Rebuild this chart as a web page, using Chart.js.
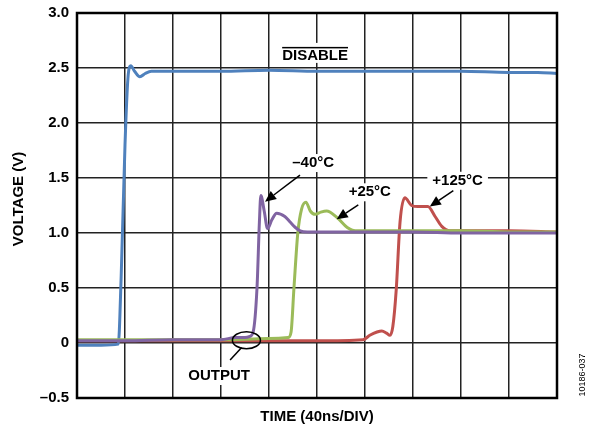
<!DOCTYPE html>
<html>
<head>
<meta charset="utf-8">
<script src="https://cdn.jsdelivr.net/npm/chart.js@4.4.1/dist/chart.umd.min.js"></script>
<style>
  html, body { margin: 0; padding: 0; background: #fff; }
  #wrap { width: 599px; height: 431px; position: relative; }
</style>
</head>
<body>
<div id="wrap"><canvas id="chart1"></canvas></div>
<script>
// x in divisions (40ns/DIV), y in volts
const disableX = [0, 0.5, 0.86, 0.92, 1.0, 1.06, 1.12, 1.2, 1.31, 1.42, 1.55, 2, 3, 4, 5, 6, 7, 8, 9, 9.6, 10];
const disableY = [-0.02, -0.02, -0.01, 0.6, 1.8, 2.4, 2.52, 2.47, 2.42, 2.45, 2.47, 2.47, 2.47, 2.48, 2.47, 2.47, 2.47, 2.47, 2.46, 2.46, 2.45];

const minus40X = [0, 1, 2, 3, 3.3, 3.5, 3.6, 3.67, 3.75, 3.8, 3.83, 3.9, 3.97, 4.06, 4.16, 4.33, 4.44, 4.55, 4.65, 4.8, 5, 6, 7, 8, 9, 10];
const minus40Y = [0.02, 0.02, 0.03, 0.03, 0.05, 0.05, 0.06, 0.1, 0.5, 1.1, 1.34, 1.2, 1.04, 1.12, 1.18, 1.15, 1.1, 1.05, 1.02, 1.01, 1.01, 1.01, 1.01, 1.0, 1.0, 1.0];

const plus25X = [0, 1, 2, 3, 4, 4.4, 4.46, 4.52, 4.6, 4.68, 4.77, 4.86, 4.96, 5.08, 5.2, 5.42, 5.63, 5.8, 6, 7, 8, 9, 10];
const plus25Y = [0.03, 0.03, 0.03, 0.03, 0.04, 0.05, 0.1, 0.5, 1.0, 1.22, 1.28, 1.2, 1.17, 1.19, 1.2, 1.14, 1.05, 1.02, 1.02, 1.02, 1.02, 1.01, 1.01];

const plus125X = [0, 1, 2, 3, 4, 5, 5.96, 6.1, 6.25, 6.35, 6.45, 6.52, 6.58, 6.65, 6.73, 6.83, 6.97, 7.1, 7.31, 7.46, 7.6, 7.77, 8, 9, 10];
const plus125Y = [0.02, 0.02, 0.02, 0.02, 0.02, 0.02, 0.03, 0.07, 0.1, 0.11, 0.09, 0.07, 0.15, 0.48, 1.1, 1.32, 1.25, 1.24, 1.24, 1.15, 1.06, 1.02, 1.02, 1.02, 1.01];

const yTicks = [-0.5, 0, 0.5, 1.0, 1.5, 2.0, 2.5, 3.0];

// annotation labels: [text, x, y]
const labels = [
  ['–40°C', 4.92, 1.636],
  ['+25°C', 6.10, 1.37],
  ['+125°C', 7.93, 1.475],
  ['OUTPUT', 2.96, -0.30]
];
// arrows: [tailX, tailY, tipX, tipY]
const arrows = [
  [4.646, 1.527, 3.917, 1.285],
  [5.86, 1.255, 5.41, 1.125],
  [7.84, 1.385, 7.35, 1.24]
];

function pts(xs, ys) {
  return xs.map((x, i) => ({ x: x, y: ys[i] }));
}

const FONT = 'Liberation Sans, Arial, sans-serif';

const annotate = {
  id: 'annotate',
  afterDatasetsDraw(chart) {
    const ctx = chart.ctx;
    const xs = chart.scales.x, ys = chart.scales.y;
    const a = chart.chartArea;
    ctx.save();
    ctx.font = 'bold 15px ' + FONT;
    ctx.textAlign = 'center';
    ctx.textBaseline = 'middle';

    // DISABLE with overline
    let px = xs.getPixelForValue(4.96), py = ys.getPixelForValue(2.61);
    let w = ctx.measureText('DISABLE').width;
    ctx.fillStyle = '#fff';
    ctx.fillRect(px - w / 2 - 3, py - 13, w + 6, 20);
    ctx.fillStyle = '#000';
    ctx.fillText('DISABLE', px, py);
    ctx.fillRect(px - w / 2, py - 9, w, 1.5);

    for (const [t, x, y] of labels) {
      px = xs.getPixelForValue(x);
      py = ys.getPixelForValue(y);
      w = ctx.measureText(t).width;
      ctx.fillStyle = '#fff';
      ctx.fillRect(px - w / 2 - 5, py - 9, w + 10, 18);
      ctx.fillStyle = '#000';
      ctx.fillText(t, px, py);
    }

    // arrows
    ctx.strokeStyle = '#000';
    ctx.fillStyle = '#000';
    ctx.lineWidth = 1.5;
    for (const [x1, y1, x2, y2] of arrows) {
      const ax = xs.getPixelForValue(x1), ay = ys.getPixelForValue(y1);
      const bx = xs.getPixelForValue(x2), by = ys.getPixelForValue(y2);
      const ang = Math.atan2(by - ay, bx - ax);
      const hl = 11, hw = 5;
      const baseX = bx - hl * Math.cos(ang), baseY = by - hl * Math.sin(ang);
      ctx.beginPath();
      ctx.moveTo(ax, ay);
      ctx.lineTo(baseX, baseY);
      ctx.stroke();
      ctx.beginPath();
      ctx.moveTo(bx, by);
      ctx.lineTo(baseX + hw * Math.sin(ang), baseY - hw * Math.cos(ang));
      ctx.lineTo(baseX - hw * Math.sin(ang), baseY + hw * Math.cos(ang));
      ctx.closePath();
      ctx.fill();
    }

    // ellipse round the output glitch + leader
    const ex = xs.getPixelForValue(3.53), ey = ys.getPixelForValue(0.025);
    ctx.lineWidth = 1.5;
    ctx.beginPath();
    ctx.ellipse(ex, ey, 14, 8.5, 0, 0, Math.PI * 2);
    ctx.stroke();
    ctx.beginPath();
    ctx.moveTo(xs.getPixelForValue(3.19), ys.getPixelForValue(-0.155));
    ctx.lineTo(xs.getPixelForValue(3.43), ys.getPixelForValue(-0.04));
    ctx.stroke();

    // frame
    ctx.lineWidth = 2.5;
    ctx.strokeRect(a.left, a.top, a.right - a.left, a.bottom - a.top);

    // y title
    ctx.save();
    ctx.font = 'bold 15px ' + FONT;
    ctx.translate(19, 199);
    ctx.rotate(-Math.PI / 2);
    ctx.fillText('VOLTAGE (V)', 0, 0);
    ctx.restore();

    // figure id
    ctx.font = '9px ' + FONT;
    ctx.fillStyle = '#000';
    ctx.translate(583, 375);
    ctx.rotate(-Math.PI / 2);
    ctx.fillText('10186-037', 0, 0);
    ctx.restore();
  }
};

const line = (data, color) => ({
  data: data,
  borderColor: color,
  borderWidth: 3,
  pointRadius: 0,
  cubicInterpolationMode: 'monotone',
  fill: false
});

new Chart(document.getElementById('chart1'), {
  type: 'line',
  data: {
    datasets: [
      line(pts(minus40X, minus40Y), '#8064a2'),
      line(pts(plus25X, plus25Y), '#9bbb59'),
      line(pts(plus125X, plus125Y), '#c0504d'),
      line(pts(disableX, disableY), '#4f81bd')
    ]
  },
  options: {
    responsive: true,
    maintainAspectRatio: false,
    animation: false,
    layout: { padding: { top: 13, right: 42, left: 0, bottom: 0 } },
    plugins: { legend: { display: false }, tooltip: { enabled: false } },
    scales: {
      x: {
        type: 'linear',
        min: 0,
        max: 10,
        ticks: { display: false, stepSize: 1 },
        grid: { color: '#222', lineWidth: 1.5, drawTicks: false },
        border: { display: false },
        title: {
          display: true,
          text: 'TIME (40ns/DIV)',
          color: '#000',
          font: { family: FONT, size: 15, weight: 'bold' },
          padding: { top: 0, bottom: 5 }
        },
        afterFit: s => { s.height = 33; s.paddingLeft = 0; s.paddingRight = 0; }
      },
      y: {
        min: -0.5,
        max: 3.0,
        afterBuildTicks: s => { s.ticks = yTicks.map(v => ({ value: v })); },
        ticks: {
          color: '#000',
          padding: 8,
          font: { family: FONT, size: 15, weight: 'bold' },
          callback: v => v === 0 ? '0' : (v < 0 ? '–' + Math.abs(v).toFixed(1) : v.toFixed(1))
        },
        grid: { color: '#222', lineWidth: 1.5, drawTicks: false },
        border: { display: false },
        afterFit: s => { s.width = 77; s.paddingTop = 0; s.paddingBottom = 0; }
      }
    }
  },
  plugins: [annotate]
});
</script>
</body>
</html>
